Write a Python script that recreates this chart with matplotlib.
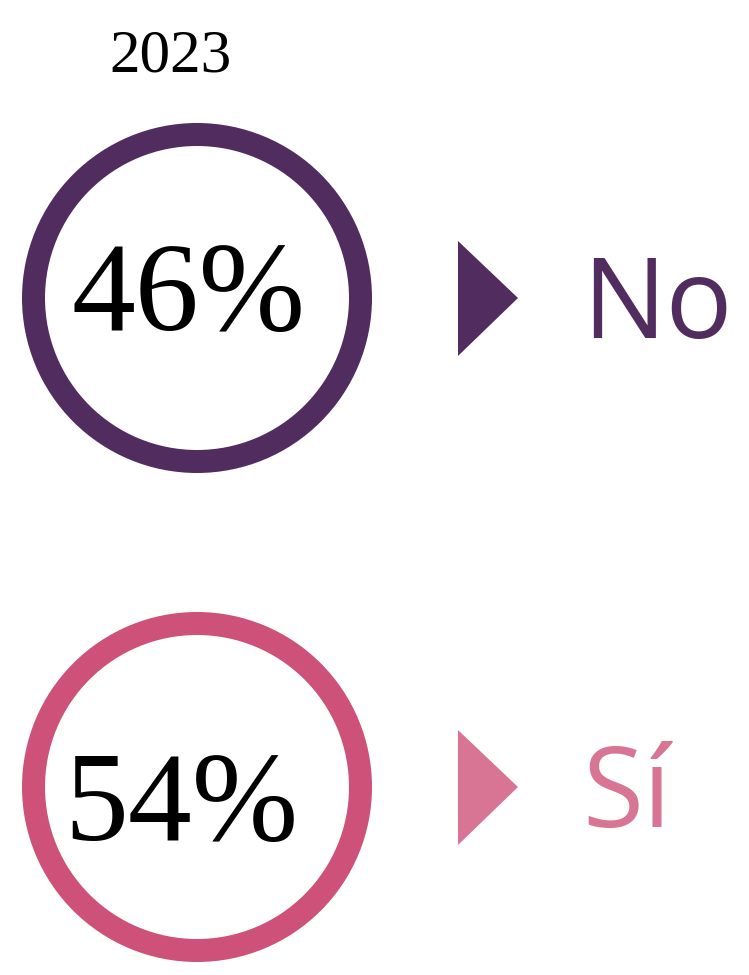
import matplotlib
matplotlib.use("Agg")
import matplotlib.pyplot as plt
from matplotlib.patches import Circle, Polygon

# Data
year = "2023"
labels = ["No", "Sí"]
values = [46, 54]
ring_colors = ["#512c5e", "#cd5179"]
marker_colors = ["#512c5e", "#d87594"]
label_colors = ["#512c5e", "#d87594"]

W, H = 749, 975
fig = plt.figure(figsize=(W / 100, H / 100), dpi=100)
ax = fig.add_axes([0, 0, 1, 1])
ax.set_xlim(0, W)
ax.set_ylim(H, 0)
ax.set_aspect("equal")
ax.axis("off")

ax.text(171, 71, year, ha="center", va="baseline", fontsize=44,
        family="Liberation Serif", color="black")

centers_y = [298, 787]
pct_x = [188, 181]
pct_base = [330, 840]
for i, (lab, val) in enumerate(zip(labels, values)):
    cy = centers_y[i]
    ax.add_patch(Circle((197, cy), 163.5, fill=False, lw=23 * 72 / 100,
                        edgecolor=ring_colors[i]))
    ax.text(pct_x[i], pct_base[i], f"{val}%", ha="center", va="baseline",
            fontsize=92, family="Liberation Serif", color="black")
    ax.add_patch(Polygon([(458, cy - 57), (458, cy + 58), (518, cy)],
                         closed=True, facecolor=marker_colors[i],
                         edgecolor="none"))
    ax.text(582, cy + 40, lab, ha="left", va="baseline", fontsize=80,
            family="Open Sans", color=label_colors[i])

fig.savefig("out.png", dpi=100, facecolor="white")
